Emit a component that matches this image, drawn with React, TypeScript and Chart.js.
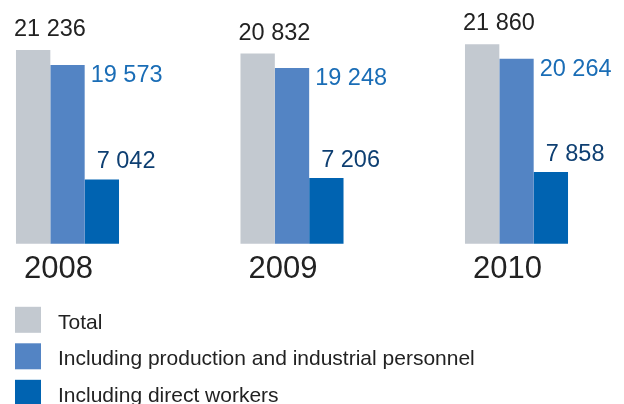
import React, { useEffect, useRef } from 'react';
import { Chart, registerables } from 'chart.js';

Chart.register(...registerables);

const years = ['2008', '2009', '2010'];
const totalValues = [21236, 20832, 21860];
const productionValues = [19573, 19248, 20264];
const directValues = [7042, 7206, 7858];
const seriesNames = ['Total', 'Including production and industrial personnel', 'Including direct workers'];

const BAR_COLORS = ['#C3C9D0', '#5384C4', '#0063B1'];
const LABEL_COLORS = ['#222222', '#1A6DB6', '#0E3F72'];
const FONT = "'Liberation Sans', Arial, Helvetica, sans-serif";

const fmt = (v: number) => String(v).replace(/\B(?=(\d{3})+(?!\d))/g, ' ');

const valueLabelPlugin = {
  id: 'valueLabels',
  afterDatasetsDraw(chart: any) {
    const ctx = chart.ctx;
    ctx.save();
    ctx.font = `23.5px ${FONT}`;
    ctx.textAlign = 'left';
    ctx.textBaseline = 'alphabetic';
    chart.data.datasets.forEach((ds: any, di: number) => {
      const meta = chart.getDatasetMeta(di);
      meta.data.forEach((bar: any, i: number) => {
        const { x, y, width } = bar.getProps(['x', 'y', 'width'], true);
        const left = x - width / 2;
        const right = x + width / 2;
        let tx = left;
        let ty = y;
        if (di === 0) {
          tx = left - 2;
          ty = y - 14;
        } else if (di === 1) {
          tx = right + 6;
          ty = y + 17;
        } else {
          tx = left + 12;
          ty = y - 11;
        }
        ctx.fillStyle = LABEL_COLORS[di];
        ctx.fillText(fmt(ds.data[i]), tx, ty);
      });
    });
    ctx.restore();
  },
};

const stackedLegendPlugin = {
  id: 'stackedLegend',
  afterDraw(chart: any) {
    const ctx = chart.ctx;
    ctx.save();
    ctx.font = `21px ${FONT}`;
    ctx.textAlign = 'left';
    ctx.textBaseline = 'alphabetic';
    const top0 = chart.chartArea.bottom + 63;
    chart.data.datasets.forEach((ds: any, di: number) => {
      const top = top0 + di * 36.5;
      ctx.fillStyle = ds.backgroundColor;
      ctx.fillRect(15, top, 26, 26);
      ctx.fillStyle = '#222222';
      ctx.fillText(ds.label, 58, top + 22);
    });
    ctx.restore();
  },
};

export default function App() {
  const canvasRef = useRef<HTMLCanvasElement | null>(null);

  useEffect(() => {
    if (!canvasRef.current) return;
    const seriesValues = [totalValues, productionValues, directValues];
    const chart = new Chart(canvasRef.current, {
      type: 'bar',
      data: {
        labels: years,
        datasets: seriesValues.map((vals, i) => ({
          label: seriesNames[i],
          data: vals,
          backgroundColor: BAR_COLORS[i],
          borderWidth: 0,
          categoryPercentage: 0.459,
          barPercentage: 1.0,
          clip: false as any,
        })),
      },
      options: {
        responsive: false,
        animation: false,
        layout: { padding: { left: 67.5, right: 107.5, top: 0, bottom: 108 } },
        plugins: {
          legend: { display: false },
          tooltip: { enabled: false },
        },
        scales: {
          x: {
            type: 'category',
            offset: false,
            grid: { display: false, drawTicks: false },
            border: { display: false },
            ticks: {
              color: '#222222',
              font: { size: 31, family: FONT },
              padding: 7.5,
              labelOffset: -9,
              maxRotation: 0,
              autoSkip: false,
            },
          },
          y: {
            display: false,
            min: 0,
            max: 26700,
          },
        },
      },
      plugins: [valueLabelPlugin, stackedLegendPlugin],
    });
    return () => chart.destroy();
  }, []);

  return (
    <div style={{ position: 'absolute', left: 0, top: 0, width: 624, height: 404, background: '#ffffff' }}>
      <canvas ref={canvasRef} width={624} height={404} style={{ display: 'block' }} />
    </div>
  );
}
